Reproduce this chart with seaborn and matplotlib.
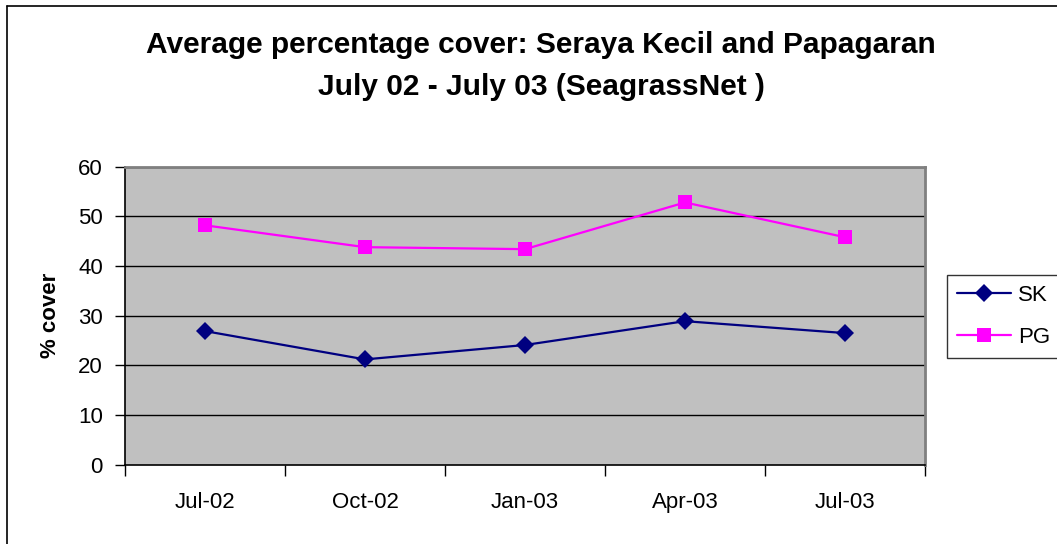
import numpy as np
import pandas as pd
import matplotlib
matplotlib.use("Agg")
import matplotlib.pyplot as plt
import seaborn as sns
from matplotlib.lines import Line2D

# data
months = ["Jul-02", "Oct-02", "Jan-03", "Apr-03", "Jul-03"]
sk = [26.9, 21.2, 24.1, 28.9, 26.5]
pg = [48.2, 43.8, 43.4, 52.8, 45.8]

df = pd.DataFrame({
    "pos": list(range(len(months))) * 2,
    "cover": sk + pg,
    "site": ["SK"] * len(sk) + ["PG"] * len(pg),
})

sns.set_style("white")
plt.rcParams["font.family"] = ["Liberation Sans", "DejaVu Sans"]
plt.rcParams["text.color"] = "black"
plt.rcParams["axes.labelcolor"] = "black"
plt.rcParams["xtick.color"] = "black"
plt.rcParams["ytick.color"] = "black"

fig = plt.figure(figsize=(10.57, 5.44), dpi=100)
ax = fig.add_axes([125 / 1057, 1 - 464.7 / 544, 800 / 1057, 298 / 544])
ax.set_facecolor("#C0C0C0")

colors = {"SK": "#000080", "PG": "#FF00FF"}
markers = {"SK": "D", "PG": "s"}
sizes = {"SK": 9, "PG": 10}
for site in ["SK", "PG"]:
    sub = df[df["site"] == site]
    sns.lineplot(x="pos", y="cover", data=sub, ax=ax, color=colors[site],
                 marker=markers[site], markersize=sizes[site], markeredgewidth=0,
                 linewidth=1.6, zorder=3, legend=False)

ax.set_xlim(-0.5, len(months) - 0.5)
ax.set_ylim(0, 60)
ax.set_yticks(range(0, 61, 10))
ax.tick_params(axis="y", labelsize=16, length=7, width=1, direction="out",
               left=True, pad=9)
ax.set_xticks(range(len(months)))
ax.set_xticklabels(months)
ax.set_xticks(np.arange(-0.5, len(months), 1), minor=True)
ax.tick_params(axis="x", which="major", length=0, labelsize=16, pad=20)
ax.tick_params(axis="x", which="minor", length=8, width=1, direction="out",
               bottom=True)
for y in range(10, 61, 10):
    ax.axhline(y, color="black", linewidth=1, zorder=1)

ax.set_xlabel("")
ax.set_ylabel("% cover", fontsize=16, fontweight="bold", labelpad=12)

for side in ["left", "bottom"]:
    ax.spines[side].set_color("black")
    ax.spines[side].set_linewidth(1.2)
for side in ["top", "right"]:
    ax.spines[side].set_color("#808080")
    ax.spines[side].set_linewidth(2)
    ax.spines[side].set_visible(True)

fig.text(541 / 1057, 1 - 66 / 544,
         "Average percentage cover: Seraya Kecil and Papagaran\nJuly 02 - July 03 (SeagrassNet )",
         ha="center", va="center", fontsize=21.5, fontweight="bold", linespacing=1.68)

handles = [Line2D([0], [0], color=colors[s], marker=markers[s], markersize=sizes[s],
                  markeredgewidth=0, linewidth=1.6) for s in ["SK", "PG"]]
leg = fig.legend(handles, ["SK", "PG"], loc="upper left",
                 bbox_to_anchor=(947 / 1057, 1 - 275 / 544), fontsize=16,
                 frameon=True, fancybox=False, handlelength=2.45, handletextpad=0.3,
                 borderpad=0.45, labelspacing=0.95, borderaxespad=0)
leg.get_frame().set_edgecolor("black")
leg.get_frame().set_linewidth(1)

# outer chart border
fig.add_artist(Line2D([7 / 1057, 7 / 1057], [0, 1 - 6 / 544], color="black",
                      linewidth=1.2, transform=fig.transFigure))
fig.add_artist(Line2D([7 / 1057, 1], [1 - 6 / 544, 1 - 6 / 544], color="black",
                      linewidth=1.2, transform=fig.transFigure))

fig.savefig("out.png", dpi=100)
